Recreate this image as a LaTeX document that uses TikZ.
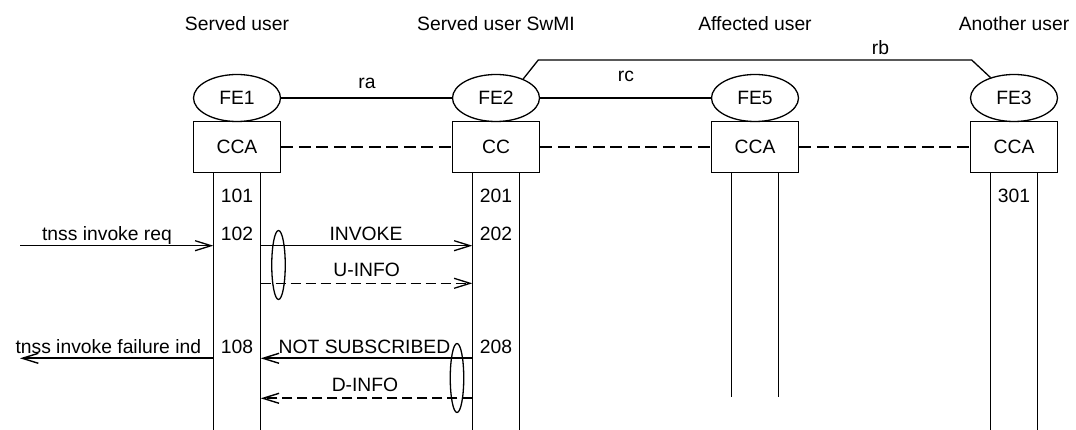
\documentclass[tikz,border=0pt]{standalone}
\usepackage{fontspec}
\setmainfont{Liberation Sans}
\usetikzlibrary{arrows.meta,shapes.geometric}
\begin{document}
\begin{tikzpicture}[x=1pt,y=-1pt,
  every node/.style={font=\fontsize{19.3}{22}\selectfont, inner sep=0pt},
  fe/.style={ellipse, draw, line width=1.3pt, minimum width=87pt, minimum height=47pt},
  ccbox/.style={rectangle, draw, line width=1.3pt, minimum width=87.4pt, minimum height=50.6pt},
  lbl/.style={anchor=base},
  life/.style={line width=1.3pt},
  rel/.style={line width=1.3pt},
  drel/.style={line width=1.3pt, dash pattern=on 12pt off 5.5pt},
  msg/.style={line width=1.3pt, -{Straight Barb[length=16pt,width=10pt,line width=1.3pt]}},
  dmsg/.style={msg, dash pattern=on 10pt off 5pt},
  tmsg/.style={line width=1.7pt, -{Straight Barb[length=16pt,width=10pt,line width=1.4pt]}},
  tdmsg/.style={tmsg, dash pattern=on 10pt off 5pt},
  grp/.style={ellipse, draw, line width=1.3pt, minimum width=13.5pt, minimum height=69pt}
]
\useasboundingbox (0,0) rectangle (1076,430);

% titles
\node[lbl] (t1) at (237,31) {Served user};
\node[lbl] (t2) at (496,31) {Served user SwMI};
\node[lbl] (t3) at (755,31) {Affected user};
\node[lbl] (t4) at (1014,31) {Another user};

% functional entities
\node[fe] (FE1) at (237,98) {FE1};
\node[fe] (FE2) at (496,98) {FE2};
\node[fe] (FE5) at (755,98) {FE5};
\node[fe] (FE3) at (1014,98) {FE3};

\node[ccbox] (B1) at (237,147) {CCA};
\node[ccbox] (B2) at (496,147) {CC};
\node[ccbox] (B3) at (755,147) {CCA};
\node[ccbox] (B4) at (1014,147) {CCA};

% relationships
\draw[rel] (FE1.east) -- (FE2.west);
\draw[rel] (FE2.east) -- (FE5.west);
\coordinate (rb1) at (538.3,60);
\coordinate (rb2) at (971.7,60);
\draw[rel] (FE2.35) -- (rb1) -- (rb2) -- (FE3.139);
\node[lbl] (ra) at (367,89) {ra};
\node[lbl] (rc) at (626,81.5) {rc};
\node[lbl] (rb) at (880.5,55) {rb};

\draw[drel] (B1.east) -- (B2.west);
\draw[drel] (B2.east) -- (B3.west);
\draw[drel] (B3.east) -- (B4.west);

% lifelines
\coordinate (L1a) at (213.3,172.3); \coordinate (L1b) at (213.3,430);
\coordinate (R1a) at (260.7,172.3); \coordinate (R1b) at (260.7,430);
\coordinate (L2a) at (472.3,172.3); \coordinate (L2b) at (472.3,430);
\coordinate (R2a) at (519.7,172.3); \coordinate (R2b) at (519.7,430);
\coordinate (L3a) at (731.3,172.3); \coordinate (L3b) at (731.3,396.7);
\coordinate (R3a) at (778.7,172.3); \coordinate (R3b) at (778.7,396.7);
\coordinate (L4a) at (990.3,172.3); \coordinate (L4b) at (990.3,430);
\coordinate (R4a) at (1037.7,172.3); \coordinate (R4b) at (1037.7,430);
\draw[life] (L1a) -- (L1b);
\draw[life] (R1a) -- (R1b);
\draw[life] (L2a) -- (L2b);
\draw[life] (R2a) -- (R2b);
\draw[life] (L3a) -- (L3b);
\draw[life] (R3a) -- (R3b);
\draw[life] (L4a) -- (L4b);
\draw[life] (R4a) -- (R4b);

% state numbers
\node[lbl] (n101) at (237,202.5) {101};
\node[lbl] (n201) at (496,202.5) {201};
\node[lbl] (n301) at (1014,202.5) {301};
\node[lbl] (n102) at (237,240.7) {102};
\node[lbl] (n202) at (496,240.7) {202};
\node[lbl] (n108) at (237,353.3) {108};
\node[lbl] (n208) at (496,353.3) {208};

% messages
\coordinate (m1s) at (20,245.7);    \coordinate (m1e) at (213.3,245.7);
\coordinate (m2s) at (260.7,245.7); \coordinate (m2e) at (472.3,245.7);
\coordinate (m3s) at (260.7,283.3); \coordinate (m3e) at (472.3,283.3);
\coordinate (m4s) at (213.3,358.3); \coordinate (m4e) at (20,358.3);
\coordinate (m5s) at (472.3,358.3); \coordinate (m5e) at (260.7,358.3);
\coordinate (m6s) at (472.3,398.3); \coordinate (m6e) at (260.7,398.3);

\draw[msg] (m1s) -- (m1e);
\draw[msg] (m2s) -- (m2e);
\draw[dmsg] (m3s) -- (m3e);
\draw[tmsg] (m4s) -- (m4e);
\draw[tmsg] (m5s) -- (m5e);
\draw[tdmsg] (m6s) -- (m6e);

\node[lbl] (l1) at (107,240.5) {tnss invoke req};
\node[lbl] (l2) at (366,240.7) {INVOKE};
\node[lbl] (l3) at (366.7,276.7) {U-INFO};
\node[lbl] (l4) at (108.3,353.3) {tnss invoke failure ind};
\node[lbl] (l5) at (364.5,353.3) {NOT SUBSCRIBED};
\node[lbl] (l6) at (365,391) {D-INFO};

% grouping ellipses
\node[grp] (g1) at (278.5,265) {};
\node[grp] (g2) at (457,378) {};
\end{tikzpicture}
\end{document}
